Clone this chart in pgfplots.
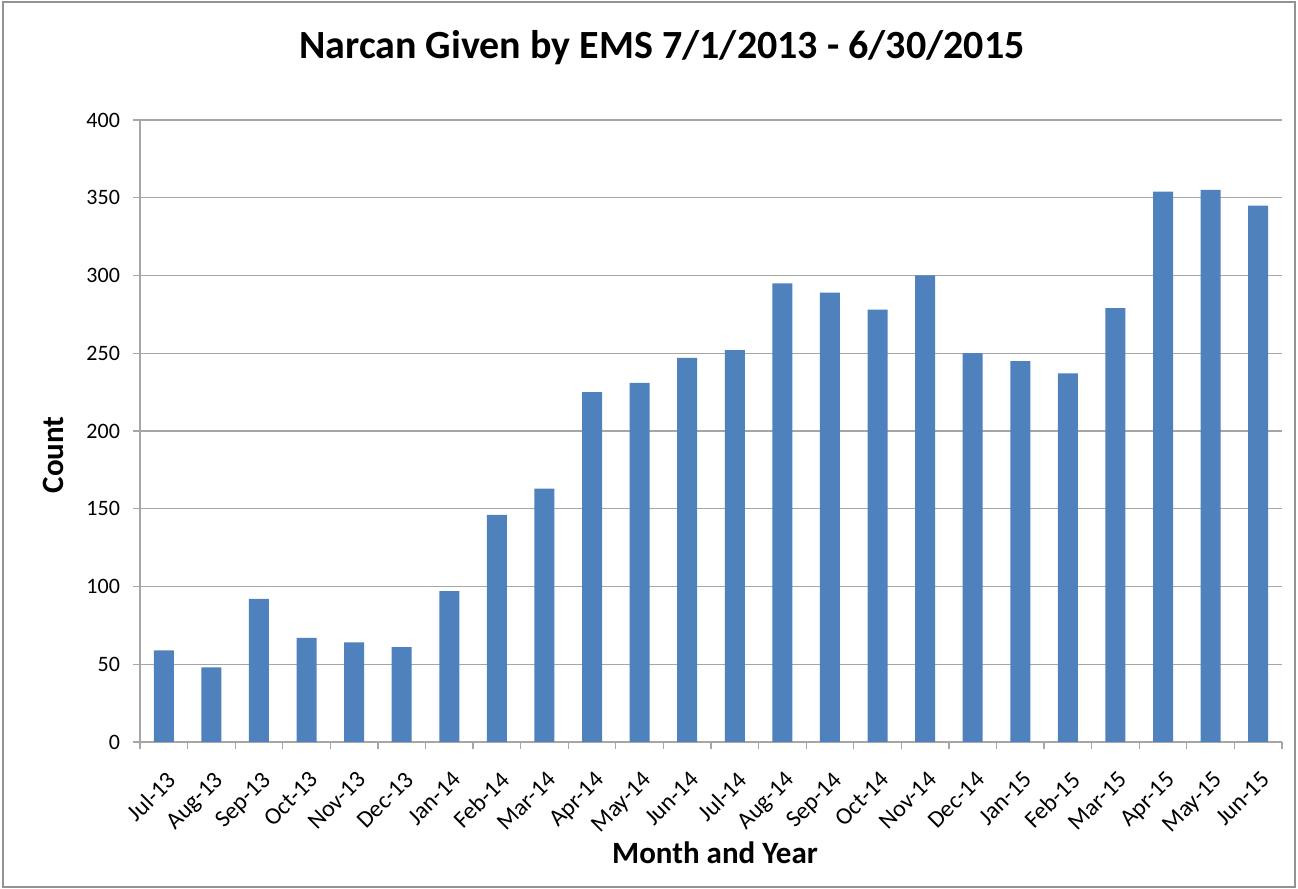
\documentclass[border=0pt]{standalone}
\usepackage{fontspec}
\setmainfont{Carlito}
\usepackage{pgfplots}
\pgfplotsset{compat=1.18}
\definecolor{barblue}{HTML}{4F81BD}
\definecolor{gridgray}{HTML}{A6A6A6}
\begin{document}
\begin{tikzpicture}
\path[use as bounding box] (-70pt,-73.5pt) rectangle (579pt,371pt);
\draw[draw=gray!85, line width=1pt] (-68.5pt,-72.5pt) rectangle (577.5pt,370pt);
\begin{axis}[
  at={(0pt,0pt)}, anchor=south west,
  scale only axis, width=571pt, height=311pt,
  xmin=-0.5, xmax=23.5, ymin=0, ymax=400,
  ytick={0,50,...,400},
  xtick={0,...,23},
  xticklabels={Jul-13,Aug-13,Sep-13,Oct-13,Nov-13,Dec-13,Jan-14,Feb-14,Mar-14,Apr-14,May-14,Jun-14,Jul-14,Aug-14,Sep-14,Oct-14,Nov-14,Dec-14,Jan-15,Feb-15,Mar-15,Apr-15,May-15,Jun-15},
  minor xtick={-0.5,0.5,...,23.5},
  major x tick style={draw=none},
  minor tick length=3.5pt,
  major tick length=3.5pt,
  tick align=outside,
  tick style={gridgray, line width=0.6pt},
  axis lines*=left,
  axis line style={-, draw=gridgray, line width=0.6pt},
  ymajorgrids,
  grid style={gridgray, line width=0.6pt},
  /pgf/number format/assume math mode=true,
  yticklabel style={font=\fontsize{11}{13}\selectfont, xshift=-3pt},
  xticklabel style={font=\fontsize{12}{14}\selectfont, xshift=1pt, yshift=-9pt, rotate=45, anchor=north east, inner sep=1pt},
  ybar, bar width=10pt,
]
\addplot[fill=barblue, draw=none] coordinates {
(0,59) (1,48) (2,92) (3,67) (4,64) (5,61) (6,97) (7,146) (8,163) (9,225) (10,231) (11,247)
(12,252) (13,295) (14,289) (15,278) (16,300) (17,250) (18,245) (19,237) (20,279) (21,354) (22,355) (23,345)
};
\end{axis}
\node[font=\bfseries\fontsize{20}{24}\selectfont] at (261pt,347pt) {Narcan Given by EMS 7/1/2013 - 6/30/2015};
\node[font=\bfseries\fontsize{15.5}{18}\selectfont, rotate=90] at (-43.5pt,143.5pt) {Count};
\node[font=\bfseries\fontsize{15.5}{18}\selectfont] at (287.5pt,-55.5pt) {Month and Year};
\end{tikzpicture}
\end{document}
